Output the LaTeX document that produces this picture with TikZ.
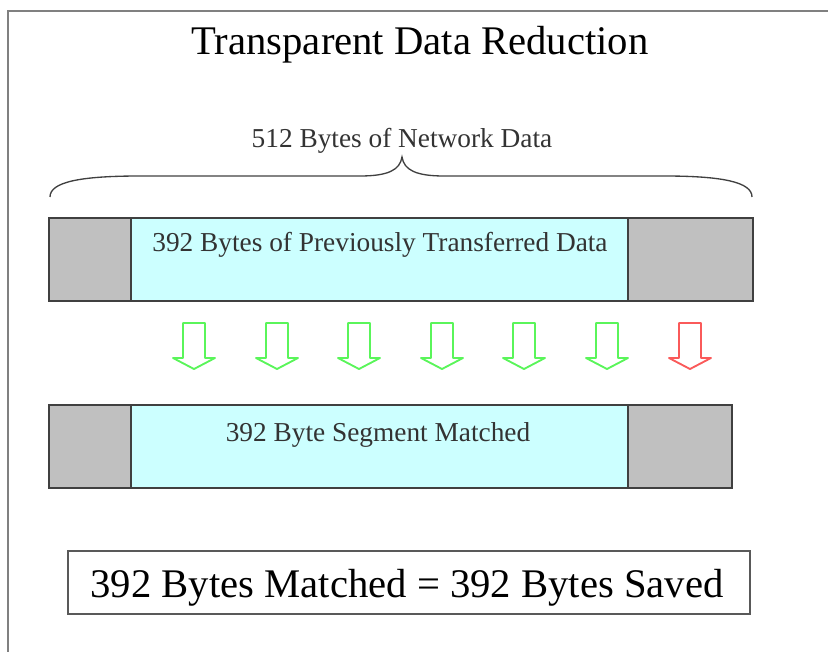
\documentclass[tikz,border=0pt]{standalone}
\usepackage{fontspec}
\setmainfont{Liberation Serif}
\definecolor{hitgreen}{RGB}{90,245,90}
\definecolor{missred}{RGB}{250,90,90}
\definecolor{segcyan}{RGB}{204,255,255}
\definecolor{seggray}{RGB}{192,192,192}
\tikzset{
	segpart/.style={draw=black!75, line width=1.3pt},
	oldseg/.style={segpart, fill=seggray},
	dataseg/.style={segpart, fill=segcyan},
	barlabel/.style={anchor=base, font=\fontsize{20.5}{24}\selectfont, text=black!80, inner sep=0pt},
	bigtext/.style={anchor=base, font=\fontsize{30.5}{36}\selectfont, inner sep=0pt},
	matcharrow/.style={line width=1.4pt, line join=round, draw=#1},
	matcharrow/.default={hitgreen}
}

\begin{document}
\begin{tikzpicture}[x=0.75pt,y=-0.75pt]
	\useasboundingbox (0,0) rectangle (828,652);
	\draw[black!50, line width=2.2pt] (8,652) -- (8,11) -- (828,11);
	\node[bigtext] (title) at (420,55) {Transparent Data Reduction};
	% brace over the whole packet
	\draw[black!75, line width=1pt] (50,197) .. controls (50,182) and (80,176) .. (140,176) -- (360,176)
		.. controls (388,176) and (400,170) .. (402,157) .. controls (404,170) and (416,176) .. (444,176) -- (664,176)
		.. controls (722,176) and (752,182) .. (752,197);
	\node[barlabel] (total) at (402,148) {512 Bytes of Network Data};
	% incoming packet
	\draw[oldseg] (49,218) rectangle (131,301);
	\draw[dataseg] (131,218) rectangle (628,301);
	\draw[oldseg] (628,218) rectangle (753,301);
	\node[barlabel] (prev) at (380,252) {392 Bytes of Previously Transferred Data};
	% arrows
	\foreach \x/\c in {194/hitgreen,277/hitgreen,359/hitgreen,442/hitgreen,524/hitgreen,607/hitgreen,690/missred}
		\draw[matcharrow=\c] (\x-11,323) -- (\x+11,323) -- (\x+11,358) -- (\x+21,358) -- (\x,369)
			-- (\x-21,358) -- (\x-11,358) -- cycle;
	% matched segment
	\draw[oldseg] (49,405) rectangle (131,488);
	\draw[dataseg] (131,405) rectangle (628,488);
	\draw[oldseg] (628,405) rectangle (732,488);
	\node[barlabel] (match) at (378,441) {392 Byte Segment Matched};
	% result
	\draw[black!65, line width=1.5pt] (68,551) rectangle (750,614);
	\node[bigtext] (saved) at (407,597) {392 Bytes Matched = 392 Bytes Saved};
\end{tikzpicture}
\end{document}
